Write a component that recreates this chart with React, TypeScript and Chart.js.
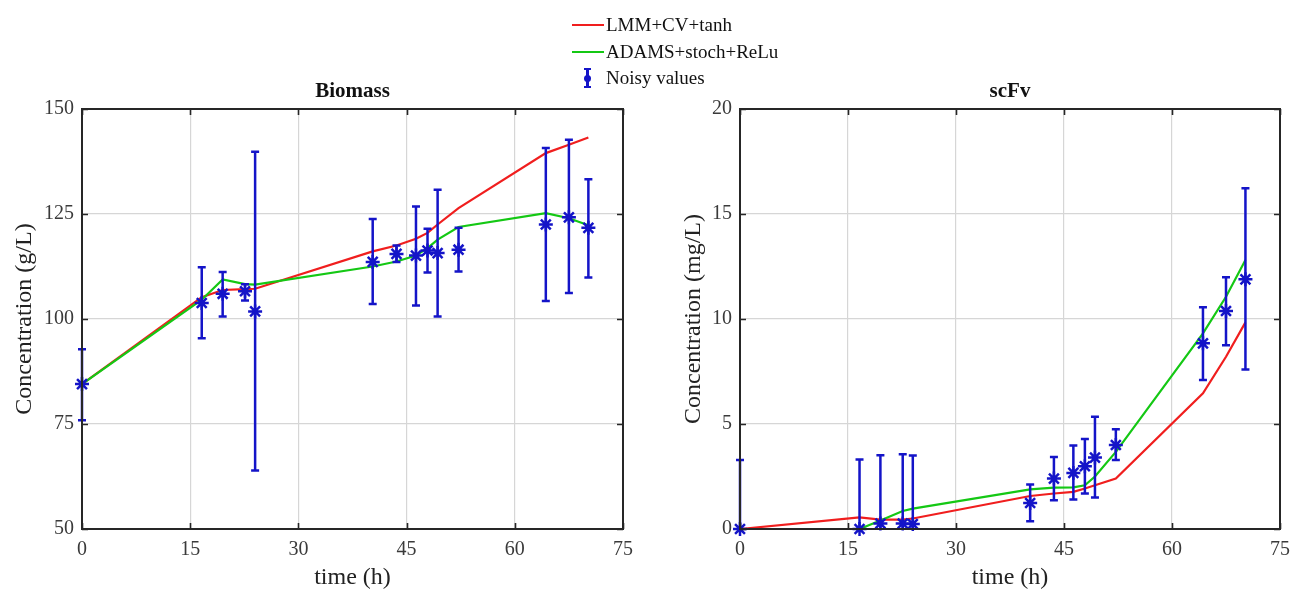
import React, { useEffect, useRef } from "react";
import { Chart, registerables } from "chart.js";

Chart.register(...registerables);

// ---------- data ----------
const timeH = [0, 16.6, 19.5, 22.6, 24.0, 40.3, 43.6, 46.3, 47.9, 49.3, 52.2, 64.3, 67.5, 70.2];

const biomassNoisy = [84.5, 103.8, 106.0, 106.6, 101.8, 113.6, 115.5, 115.1, 116.3, 115.7, 116.5, 122.5, 124.2, 121.7];
const biomassErrLow = [75.9, 95.4, 100.6, 104.4, 63.9, 103.6, 113.6, 103.2, 111.1, 100.6, 111.3, 104.3, 106.2, 109.9];
const biomassErrHigh = [92.8, 112.3, 111.2, 108.3, 139.8, 123.8, 117.5, 126.8, 121.5, 130.8, 121.7, 140.7, 142.7, 133.3];
const biomassLMM = [84.5, 105.2, 106.9, 107.1, 107.2, 116.1, 117.5, 119.1, 120.5, 122.5, 126.4, 139.5, 141.5, 143.2];
const biomassADAMS = [84.5, 104.6, 109.4, 108.3, 108.2, 112.5, 113.7, 115.1, 116.9, 118.9, 121.9, 125.2, 124.0, 122.3];

const scfvNoisy = [0, 0, 0.26, 0.26, 0.24, 1.24, 2.4, 2.67, 2.99, 3.4, 4.0, 8.84, 10.38, 11.89];
const scfvErrLow = [-3.3, -3.3, -3.0, -3.0, -3.0, 0.37, 1.37, 1.4, 1.69, 1.5, 3.28, 7.09, 8.75, 7.6];
const scfvErrHigh = [3.28, 3.31, 3.51, 3.56, 3.5, 2.12, 3.43, 3.98, 4.28, 5.34, 4.75, 10.56, 11.99, 16.23];
const scfvLMM = [0, 0.55, 0.45, 0.45, 0.5, 1.57, 1.69, 1.77, 1.93, 2.08, 2.4, 6.46, 8.2, 9.84];
const scfvADAMS = [0, 0.0, 0.4, 0.86, 0.97, 1.89, 1.97, 1.98, 2.08, 2.5, 3.67, 9.32, 11.06, 12.81];

const xTicks = [0, 15, 30, 45, 60, 75];
const biomassTicks = [50, 75, 100, 125, 150];
const scfvTicks = [0, 5, 10, 15, 20];

const seriesNames = ["LMM+CV+tanh", "ADAMS+stoch+ReLu", "Noisy values"];

// ---------- style ----------
const SERIF = "'Liberation Serif', 'Times New Roman', serif";
const RED = "#f01e1e";
const GREEN = "#14c814";
const BLUE = "#1414c8";
const AXIS = "#262626";
const GRID = "#d6d6d6";
const TICK_TEXT = "#3a3a3a";

const toXY = (ys: number[]) => ys.map((y, i) => ({ x: timeH[i], y }));

const errorBarPlugin = {
  id: "errorBars",
  beforeDatasetDraw(chart: any, args: any, opts: any) {
    if (args.index !== 0) return;
    const { ctx, chartArea, scales } = chart;
    const xs = scales.x;
    const ys = scales.y;
    ctx.save();
    ctx.beginPath();
    ctx.rect(chartArea.left - 5, chartArea.top - 1, chartArea.width + 10, chartArea.height + 2);
    ctx.clip();
    ctx.strokeStyle = opts.color;
    ctx.lineWidth = 2.5;
    for (let i = 0; i < opts.times.length; i++) {
      const px = xs.getPixelForValue(opts.times[i]);
      const y1 = ys.getPixelForValue(opts.low[i]);
      const y2 = ys.getPixelForValue(opts.high[i]);
      ctx.beginPath();
      ctx.moveTo(px, y1);
      ctx.lineTo(px, y2);
      ctx.moveTo(px - 4, y1);
      ctx.lineTo(px + 4, y1);
      ctx.moveTo(px - 4, y2);
      ctx.lineTo(px + 4, y2);
      ctx.stroke();
    }
    ctx.restore();
  },
};

const framePlugin = {
  id: "frame",
  afterDraw(chart: any, _args: any, opts: any) {
    const { ctx, chartArea, scales } = chart;
    const { left, right, top, bottom } = chartArea;
    ctx.save();
    ctx.strokeStyle = AXIS;
    ctx.lineWidth = 1.6;
    const tl = 6;
    ctx.beginPath();
    for (const v of opts.xTicks) {
      const px = Math.round(scales.x.getPixelForValue(v)) + 0.5;
      ctx.moveTo(px, bottom);
      ctx.lineTo(px, bottom - tl);
      ctx.moveTo(px, top);
      ctx.lineTo(px, top + tl);
    }
    for (const v of opts.yTicks) {
      const py = Math.round(scales.y.getPixelForValue(v)) + 0.5;
      ctx.moveTo(left, py);
      ctx.lineTo(left + tl, py);
      ctx.moveTo(right, py);
      ctx.lineTo(right - tl, py);
    }
    ctx.stroke();
    ctx.lineWidth = 2;
    ctx.strokeRect(left, top, right - left, bottom - top);
    // title
    ctx.fillStyle = "#111";
    ctx.font = `bold 21px ${SERIF}`;
    ctx.textAlign = "center";
    ctx.textBaseline = "alphabetic";
    ctx.fillText(opts.title, (left + right) / 2, top - 12);
    ctx.restore();
  },
};

function buildConfig(p: {
  noisy: number[];
  low: number[];
  high: number[];
  lmm: number[];
  adams: number[];
  yMin: number;
  yMax: number;
  yTicks: number[];
  yTitle: string;
  title: string;
  yAxisWidth: number;
  yTitlePad: number;
  padRight: number;
}) {
  return {
    type: "line",
    data: {
      datasets: [
        {
          label: seriesNames[2],
          data: toXY(p.noisy),
          showLine: false,
          clip: false,
          pointStyle: "star",
          pointRadius: 7,
          pointBorderWidth: 2.5,
          borderColor: BLUE,
          backgroundColor: BLUE,
          pointBorderColor: BLUE,
        },
        {
          label: seriesNames[1],
          data: toXY(p.adams),
          borderColor: GREEN,
          borderWidth: 2.2,
          pointRadius: 0,
          tension: 0,
          fill: false,
        },
        {
          label: seriesNames[0],
          data: toXY(p.lmm),
          borderColor: RED,
          borderWidth: 2.2,
          pointRadius: 0,
          tension: 0,
          fill: false,
        },
      ],
    },
    options: {
      animation: false,
      responsive: false,
      maintainAspectRatio: false,
      events: [],
      layout: { padding: { top: 109, right: p.padRight, left: 0, bottom: 0 } },
      plugins: {
        legend: { display: false },
        tooltip: { enabled: false },
        title: { display: false },
        errorBars: { times: timeH, low: p.low, high: p.high, color: BLUE },
        frame: { xTicks, yTicks: p.yTicks, title: p.title },
      },
      scales: {
        x: {
          type: "linear",
          min: 0,
          max: 75,
          afterBuildTicks: (s: any) => {
            s.ticks = xTicks.map((v) => ({ value: v }));
          },
          afterFit: (s: any) => {
            s.height = 63;
            s.paddingLeft = 0;
            s.paddingRight = 0;
          },
          ticks: {
            color: TICK_TEXT,
            font: { family: SERIF, size: 20 },
            padding: 9,
            maxRotation: 0,
            autoSkip: false,
          },
          grid: { color: GRID, lineWidth: 1.2, drawTicks: false },
          border: { display: false },
          title: {
            display: true,
            text: "time (h)",
            color: "#222",
            font: { family: SERIF, size: 24, lineHeight: 1.2 },
            padding: { top: 0, bottom: 0 },
          },
        },
        y: {
          type: "linear",
          min: p.yMin,
          max: p.yMax,
          afterBuildTicks: (s: any) => {
            s.ticks = p.yTicks.map((v) => ({ value: v }));
          },
          afterFit: (s: any) => {
            s.width = p.yAxisWidth;
            s.paddingTop = 0;
            s.paddingBottom = 0;
          },
          ticks: {
            color: TICK_TEXT,
            font: { family: SERIF, size: 20 },
            padding: 8,
            autoSkip: false,
          },
          grid: { color: GRID, lineWidth: 1.2, drawTicks: false },
          border: { display: false },
          title: {
            display: true,
            text: p.yTitle,
            color: "#222",
            font: { family: SERIF, size: 24, lineHeight: 1.2 },
            padding: { top: p.yTitlePad, bottom: 0 },
          },
        },
      },
    },
    plugins: [errorBarPlugin, framePlugin],
  };
}

const legendRow: React.CSSProperties = {
  position: "absolute",
  left: 606,
  fontFamily: SERIF,
  fontSize: 19,
  color: "#111",
  lineHeight: "20px",
  whiteSpace: "nowrap",
};

export default function App() {
  const leftRef = useRef<HTMLCanvasElement>(null);
  const rightRef = useRef<HTMLCanvasElement>(null);

  useEffect(() => {
    const c1 = new Chart(
      leftRef.current as HTMLCanvasElement,
      buildConfig({
        noisy: biomassNoisy,
        low: biomassErrLow,
        high: biomassErrHigh,
        lmm: biomassLMM,
        adams: biomassADAMS,
        yMin: 50,
        yMax: 150,
        yTicks: biomassTicks,
        yTitle: "Concentration (g/L)",
        title: "Biomass",
        yAxisWidth: 82,
        yTitlePad: 10,
        padRight: 22,
      }) as any
    );
    const c2 = new Chart(
      rightRef.current as HTMLCanvasElement,
      buildConfig({
        noisy: scfvNoisy,
        low: scfvErrLow,
        high: scfvErrHigh,
        lmm: scfvLMM,
        adams: scfvADAMS,
        yMin: 0,
        yMax: 20,
        yTicks: scfvTicks,
        yTitle: "Concentration (mg/L)",
        title: "scFv",
        yAxisWidth: 95,
        yTitlePad: 34,
        padRight: 10,
      }) as any
    );
    return () => {
      c1.destroy();
      c2.destroy();
    };
  }, []);

  return (
    <div
      style={{
        position: "absolute",
        left: 0,
        top: 0,
        width: 1290,
        height: 592,
        background: "#fff",
        overflow: "hidden",
      }}
    >
      <canvas
        ref={leftRef}
        width={645}
        height={592}
        style={{ position: "absolute", left: 0, top: 0, width: 645, height: 592 }}
      />
      <canvas
        ref={rightRef}
        width={645}
        height={592}
        style={{ position: "absolute", left: 645, top: 0, width: 645, height: 592 }}
      />
      {/* legend */}
      <div style={{ position: "absolute", left: 572, top: 24, width: 32, height: 2, background: RED }} />
      <div style={{ ...legendRow, top: 15 }}>{seriesNames[0]}</div>
      <div style={{ position: "absolute", left: 572, top: 51, width: 32, height: 2, background: GREEN }} />
      <div style={{ ...legendRow, top: 42 }}>{seriesNames[1]}</div>
      <div style={{ position: "absolute", left: 586, top: 69, width: 2.5, height: 18, background: BLUE }} />
      <div style={{ position: "absolute", left: 584, top: 68, width: 7, height: 2, background: BLUE }} />
      <div style={{ position: "absolute", left: 584, top: 86, width: 7, height: 2, background: BLUE }} />
      <div
        style={{
          position: "absolute",
          left: 584,
          top: 75,
          width: 7,
          height: 7,
          borderRadius: "50%",
          background: BLUE,
        }}
      />
      <div style={{ ...legendRow, top: 68 }}>{seriesNames[2]}</div>
    </div>
  );
}
